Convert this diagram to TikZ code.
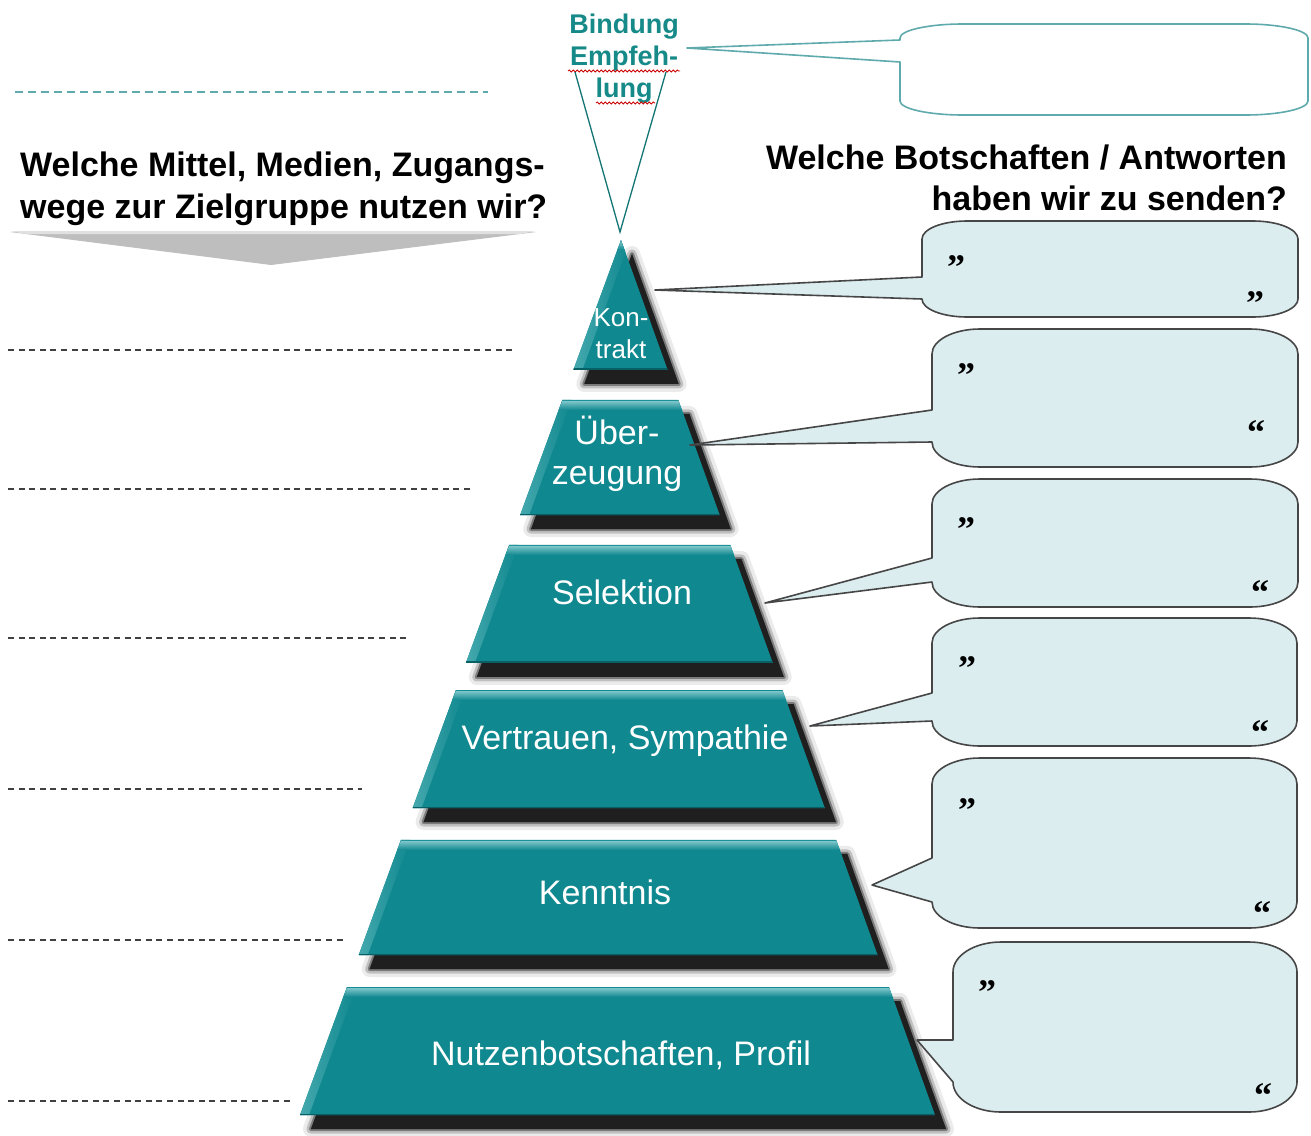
\documentclass[tikz,border=0pt]{standalone}
\usepackage{fontspec}
\setmainfont{Liberation Sans}
\newfontfamily\qfont{Liberation Serif}
\usetikzlibrary{calc,decorations.pathmorphing}
\definecolor{tealmain}{RGB}{16,136,143}
\definecolor{tealtop}{RGB}{125,198,202}
\definecolor{tealleft}{RGB}{70,170,175}
\definecolor{tealdark}{RGB}{8,96,102}
\definecolor{bubblefill}{RGB}{220,237,240}
\definecolor{bubbleline}{RGB}{70,70,70}
\definecolor{tealtext}{RGB}{22,138,136}
\definecolor{topline}{RGB}{95,170,172}
\definecolor{arrowgray}{RGB}{190,190,190}

\newcommand\pyrband[3]{%
  \pgfmathsetmacro\pbT{(#2-240)/875}%
  \pgfmathsetmacro\pbB{(#3-240)/875}%
  \pgfmathsetmacro\pbV{(#2+10-240)/875}%
  \coordinate (#1tl) at ($(apex)!\pbT!(baseL)$);
  \coordinate (#1tr) at ($(apex)!\pbT!(baseR)$);
  \coordinate (#1bl) at ($(apex)!\pbB!(baseL)$);
  \coordinate (#1br) at ($(apex)!\pbB!(baseR)$);
  \coordinate (#1vl) at ($(apex)!\pbV!(baseL)$);
  \coordinate (#1vr) at ($(apex)!\pbV!(baseR)$);
  \path[fill=black, draw=black, opacity=.08, line width=16, line join=round]
    ([shift={(11,14)}]#1tl) -- ([shift={(11,14)}]#1tr) -- ([shift={(11,14)}]#1br) -- ([shift={(11,14)}]#1bl) -- cycle;
  \path[fill=black, draw=black, opacity=.18, line width=9, line join=round]
    ([shift={(11,14)}]#1tl) -- ([shift={(11,14)}]#1tr) -- ([shift={(11,14)}]#1br) -- ([shift={(11,14)}]#1bl) -- cycle;
  \path[fill=black, draw=black, opacity=.35, line width=4, line join=round]
    ([shift={(11,14)}]#1tl) -- ([shift={(11,14)}]#1tr) -- ([shift={(11,14)}]#1br) -- ([shift={(11,14)}]#1bl) -- cycle;
  \fill[black!88] ([shift={(11,14)}]#1tl) -- ([shift={(11,14)}]#1tr) -- ([shift={(11,14)}]#1br) -- ([shift={(11,14)}]#1bl) -- cycle;
  \fill[tealmain] (#1tl) -- (#1tr) -- (#1br) -- (#1bl) -- cycle;
  \begin{scope}
    \clip (#1tl) -- (#1tr) -- (#1br) -- (#1bl) -- cycle;
    \shade[left color=tealleft, right color=tealmain] ([xshift=-2]#1tl) -- ([xshift=9]#1tl) -- ([xshift=9]#1bl) -- ([xshift=-2]#1bl) -- cycle;
    \shade[top color=tealtop, bottom color=tealmain] ([yshift=-1]#1tl) -- ([yshift=-1]#1tr) -- (#1vr) -- (#1vl) -- cycle;
    \draw[tealdark, line width=3] (#1bl) -- (#1br);
  \end{scope}
}

% #1 L, #2 T, #3 R, #4 B, #5 rx, #6 ry, #7 base top, #8 base bottom, #9 tip
\newcommand\bubble[9]{%
  \filldraw[bub] (#1,#7) -- (#1,{#2+#6})
    .. controls (#1,{#2+0.448*#6}) and ({#1+0.448*#5},#2) .. ({#1+#5},#2)
    -- ({#3-#5},#2)
    .. controls ({#3-0.448*#5},#2) and (#3,{#2+0.448*#6}) .. (#3,{#2+#6})
    -- (#3,{#4-#6})
    .. controls (#3,{#4-0.448*#6}) and ({#3-0.448*#5},#4) .. ({#3-#5},#4)
    -- ({#1+#5},#4)
    .. controls ({#1+0.448*#5},#4) and (#1,{#4-0.448*#6}) .. (#1,{#4-#6})
    -- (#1,#8) -- (#9) -- cycle;
}

\begin{document}
\begin{tikzpicture}[x=1pt,y=-1pt,
  bandtxt/.style={text=white, inner sep=0, font=\fontsize{34}{40}\selectfont},
  headtxt/.style={text=black, inner sep=0, font=\bfseries\fontsize{34}{42}\selectfont},
  quotemark/.style={inner sep=0, anchor=north, font=\qfont\bfseries\fontsize{36}{36}\selectfont},
  dashline/.style={draw=black!75, line width=1.8, dash pattern=on 6 off 4.6},
  bub/.style={fill=bubblefill, draw=bubbleline, line width=1.6, line join=round},
  tealline/.style={draw=tealtext!85!black, line width=1.3}]
\useasboundingbox (0,0) rectangle (1311,1135);
\fill[white] (0,0) rectangle (1311,1135);

% dashed lines
\draw[draw=topline, line width=1.6, dash pattern=on 8 off 5] (15,92) -- (488,92);
\draw[dashline] (8,350) -- (512,350);
\draw[dashline] (8,489) -- (472,489);
\draw[dashline] (8,638) -- (407,638);
\draw[dashline] (8,789) -- (362,789);
\draw[dashline] (8,940) -- (343,940);
\draw[dashline] (8,1101) -- (290,1101);

% headings
\node[headtxt, anchor=north west, align=left] (headL) at (20,152)
  {Welche Mittel, Medien, Zugangs-\\wege zur Zielgruppe nutzen wir?};
\node[headtxt, anchor=north east, align=right, font=\bfseries\fontsize{34}{41}\selectfont] (headR) at (1287,145)
  {Welche Botschaften / Antworten\\haben wir zu senden?};
\fill[arrowgray] (10,232) -- (536,232) -- (271,265) -- cycle;
\fill[black!12] (10,231) -- (536,231) -- (520,234) -- (26,234) -- cycle;

% top label
\node[inner sep=0, align=center, text=tealtext, font=\bfseries\fontsize{27}{32}\selectfont] (bind) at (624,59)
  {Bindung\\Empfeh-\\lung};
\draw[red!80!black, line width=0.8, decorate, decoration={snake, amplitude=1.1, segment length=4}] (568,71) -- (680,71);
\draw[red!80!black, line width=0.8, decorate, decoration={snake, amplitude=1.1, segment length=4}] (596,103) -- (655,103);
\coordinate (triL) at (575,72);
\coordinate (triR) at (666,72);
\coordinate (triA) at (620,232);
\draw[tealline] (triL) -- (triA) -- (triR);

% pyramid
\coordinate (apex) at (621,240);
\coordinate (baseL) at (300,1115);
\coordinate (baseR) at (935,1115);
\pyrband{b1}{240}{370}
\pyrband{b2}{400}{515}
\pyrband{b3}{545}{663}
\pyrband{b4}{690}{808}
\pyrband{b5}{840}{955}
\pyrband{b6}{987}{1115}

\node[bandtxt, align=center, font=\fontsize{26}{32}\selectfont] (lKon) at (621,334) {Kon-\\trakt};
\node[bandtxt, align=center] (lUeb) at (617,454) {Über-\\zeugung};
\node[bandtxt, anchor=base] (lSel) at (622,604) {Selektion};
\node[bandtxt, anchor=base] (lVer) at (625,749) {Vertrauen, Sympathie};
\node[bandtxt, anchor=base] (lKen) at (605,904) {Kenntnis};
\node[bandtxt, anchor=base] (lNut) at (621,1065) {Nutzenbotschaften, Profil};

% callouts
\coordinate (tip0) at (687,48);
\coordinate (tipA) at (655,290);
\coordinate (tipB) at (690,445);
\coordinate (tipC) at (765,603);
\coordinate (tipD) at (810,726);
\coordinate (tipE) at (872,885);
\coordinate (tipF) at (917,1040);

\begin{scope}[bub/.style={fill=white, draw=topline, line width=1.6, line join=round}]
\bubble{900}{24}{1308}{115}{63}{14}{40}{62}{tip0}
\end{scope}
\bubble{922}{221}{1298}{317}{45}{18}{277}{299}{tipA}
\bubble{932}{329}{1298}{467}{48}{25}{410}{442}{tipB}
\bubble{932}{479}{1298}{607}{48}{25}{558}{582}{tipC}
\bubble{932}{618}{1297}{746}{48}{25}{693}{721}{tipD}
\bubble{932}{758}{1297}{928}{48}{26}{858}{902}{tipE}
\bubble{953}{942}{1297}{1112}{48}{30}{1040}{1082}{tipF}

% quote marks
\node[quotemark] (qA1) at (956,255) {”};
\node[quotemark] (qA2) at (1255,291) {”};
\node[quotemark] (qB1) at (966,363) {”};
\node[quotemark] (qB2) at (1256,420) {“};
\node[quotemark] (qC1) at (966,517) {”};
\node[quotemark] (qC2) at (1260,580) {“};
\node[quotemark] (qD1) at (967,656) {”};
\node[quotemark] (qD2) at (1260,720) {“};
\node[quotemark] (qE1) at (967,798) {”};
\node[quotemark] (qE2) at (1262,901) {“};
\node[quotemark] (qF1) at (987,980) {”};
\node[quotemark] (qF2) at (1263,1083) {“};
\end{tikzpicture}
\end{document}
